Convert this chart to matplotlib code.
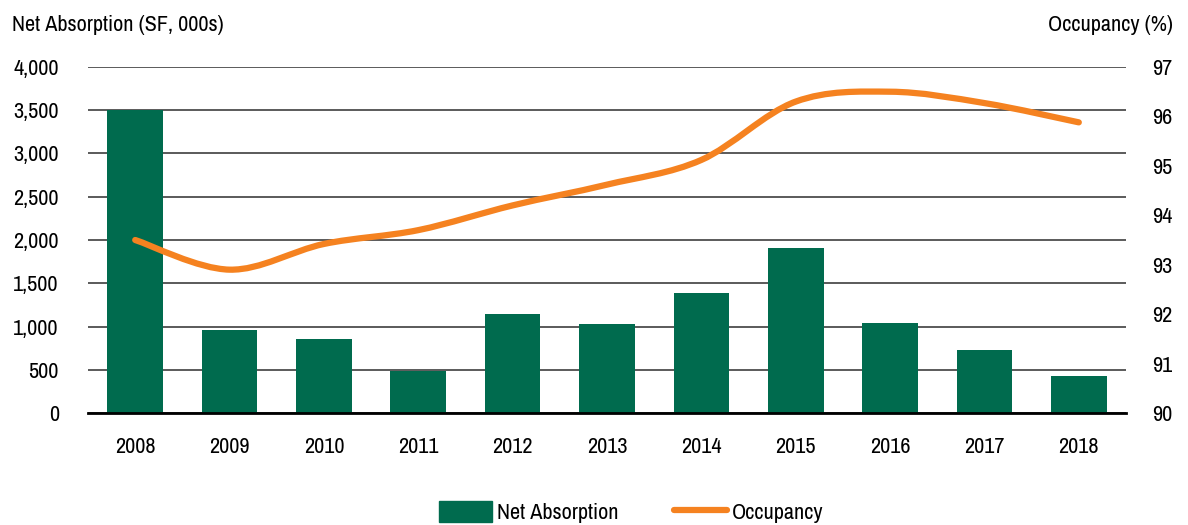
import matplotlib.pyplot as plt
import matplotlib.patches as mpatches
from matplotlib.path import Path
from matplotlib.lines import Line2D
import numpy as np

years = ['2008', '2009', '2010', '2011', '2012', '2013', '2014', '2015', '2016', '2017', '2018']
net_absorption = [3500, 960, 855, 490, 1150, 1025, 1390, 1910, 1040, 725, 430]
occupancy = [93.5, 92.9, 93.42, 93.7, 94.2, 94.62, 95.12, 96.3, 96.5, 96.27, 95.88]

green = '#006b4e'
orange = '#f58220'

plt.rcParams['font.family'] = ['Archivo Narrow', 'DejaVu Sans']
fs = 16


def smooth_path(xs, ys, tension=1.0 / 6):
    """Bezier path through the points, Catmull-Rom style (like Excel smoothing)."""
    pts = list(zip(xs, ys))
    verts = [pts[0]]
    codes = [Path.MOVETO]
    n = len(pts)
    for i in range(n - 1):
        p0 = pts[i - 1] if i > 0 else pts[i]
        p1 = pts[i]
        p2 = pts[i + 1]
        p3 = pts[i + 2] if i + 2 < n else pts[i + 1]
        c1 = (p1[0] + (p2[0] - p0[0]) * tension, p1[1] + (p2[1] - p0[1]) * tension)
        c2 = (p2[0] - (p3[0] - p1[0]) * tension, p2[1] - (p3[1] - p1[1]) * tension)
        verts += [c1, c2, p2]
        codes += [Path.CURVE4] * 3
    return Path(verts, codes)


fig = plt.figure(figsize=(11.88, 5.25), dpi=100)
ax = fig.add_axes([0.0741, 0.2133, 0.8737, 0.6591])
x = np.arange(len(years))

ax.bar(x, net_absorption, width=0.59, color=green, zorder=2)
ax.set_ylim(0, 4000)
ax.set_xlim(-0.5, len(years) - 0.5)
ax.set_yticks(np.arange(0, 4001, 500))
ax.set_yticklabels(['{:,}'.format(v) for v in range(0, 4001, 500)], fontsize=fs)
ax.set_xticks(x)
ax.set_xticklabels(years, fontsize=fs)
ax.tick_params(axis='x', length=0, pad=17)
ax.tick_params(axis='y', length=0, pad=21)
ax.yaxis.grid(True, color='#5a5a5a', linewidth=1.4, zorder=0)
ax.set_axisbelow(True)
for s in ['top', 'right', 'left']:
    ax.spines[s].set_visible(False)
ax.spines['bottom'].set_color('black')
ax.spines['bottom'].set_linewidth(2)
ax.spines['bottom'].set_zorder(3)

ax2 = ax.twinx()
ax2.set_ylim(90, 97)
ax2.set_yticks(range(90, 98))
ax2.set_yticklabels([str(v) for v in range(90, 98)], fontsize=fs)
ax2.tick_params(axis='y', length=0, pad=19)
for s in ax2.spines.values():
    s.set_visible(False)
patch = mpatches.PathPatch(smooth_path(x, occupancy), facecolor='none', edgecolor=orange,
                           linewidth=4.5, capstyle='round', joinstyle='round', zorder=4)
ax2.add_patch(patch)

fig.text(0.01, 0.952, 'Net Absorption (SF, 000s)', fontsize=fs, va='center', ha='left')
fig.text(0.987, 0.952, 'Occupancy (%)', fontsize=fs, va='center', ha='right')

handles = [mpatches.Patch(color=green, label='Net Absorption'),
           Line2D([0], [0], color=orange, linewidth=4.5, solid_capstyle='round', label='Occupancy')]
fig.legend(handles=handles, loc='center', bbox_to_anchor=(0.531, 0.025), ncol=2, frameon=False,
           fontsize=fs, handlelength=2.4, handleheight=1.1, handletextpad=0.2, columnspacing=2.5)

fig.savefig('out.png', dpi=100)
